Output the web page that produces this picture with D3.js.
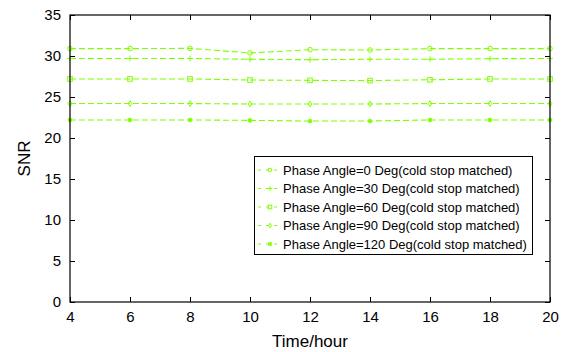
<!DOCTYPE html>
<html><head><meta charset="utf-8">
<script src="https://cdn.jsdelivr.net/npm/d3@7"></script>
<style>body{margin:0;background:#fff}svg{display:block}text{font-family:Arial,"Liberation Sans",sans-serif}</style>
</head><body><svg id="c" width="565" height="352"></svg>
<script>
const hours = [4, 6, 8, 10, 12, 14, 16, 18, 20];
const snr0 = [30.9, 30.9, 30.93, 30.37, 30.77, 30.73, 30.9, 30.9, 30.9];
const snr30 = [29.7, 29.7, 29.7, 29.6, 29.55, 29.6, 29.6, 29.67, 29.7];
const snr60 = [27.2, 27.2, 27.2, 27.07, 27.03, 27.0, 27.1, 27.2, 27.2];
const snr90 = [24.2, 24.2, 24.2, 24.15, 24.15, 24.15, 24.2, 24.2, 24.2];
const snr120 = [22.2, 22.2, 22.2, 22.15, 22.07, 22.07, 22.2, 22.2, 22.2];
const seriesNames = ["Phase Angle=0 Deg(cold stop matched)", "Phase Angle=30 Deg(cold stop matched)",
  "Phase Angle=60 Deg(cold stop matched)", "Phase Angle=90 Deg(cold stop matched)",
  "Phase Angle=120 Deg(cold stop matched)"];
const markers = ["circle", "plus", "square", "diamond", "star"];
const xTicks = [4, 6, 8, 10, 12, 14, 16, 18, 20];
const yTicks = [0, 5, 10, 15, 20, 25, 30, 35];

const series = [snr0, snr30, snr60, snr90, snr120];
const color = "#80ff00";
const svg = d3.select("#c");
const L = 70, R = 550, T = 15, B = 302;
const x = d3.scaleLinear().domain([4, 20]).range([L, R]);
const y = d3.scaleLinear().domain([0, 35]).range([B, T]);

function drawMarker(g, type, cx, cy, s) {
  s = s || 2.3;
  if (type === "circle") g.append("circle").attr("cx", cx).attr("cy", cy).attr("r", s).attr("fill", "none").attr("stroke", color);
  else if (type === "square") g.append("rect").attr("x", cx - s).attr("y", cy - s).attr("width", 2 * s).attr("height", 2 * s).attr("fill", "none").attr("stroke", color);
  else if (type === "diamond") g.append("path").attr("d", `M${cx},${cy - s - 0.5}L${cx + s - 0.4},${cy}L${cx},${cy + s + 0.5}L${cx - s + 0.4},${cy}Z`).attr("fill", "none").attr("stroke", color);
  else if (type === "plus") g.append("path").attr("d", `M${cx - s - 0.5},${cy}H${cx + s + 0.5}M${cx},${cy - s - 0.5}V${cy + s + 0.5}`).attr("stroke", color);
  else if (type === "star") g.append("path").attr("d", `M${cx - s},${cy}H${cx + s}M${cx},${cy - s}V${cy + s}M${cx - 1.6},${cy - 1.6}L${cx + 1.6},${cy + 1.6}M${cx - 1.6},${cy + 1.6}L${cx + 1.6},${cy - 1.6}`).attr("stroke", color).attr("stroke-width", 1.3);
}

// lines
const line = d3.line().x((d, i) => x(hours[i])).y(d => y(d));
series.forEach((s, k) => {
  svg.append("path").attr("d", line(s)).attr("fill", "none").attr("stroke", color)
    .attr("stroke-width", 1.1).attr("stroke-dasharray", "6,3");
  const g = svg.append("g");
  s.forEach((v, i) => drawMarker(g, markers[k], x(hours[i]), y(v)));
});

// axes
const ax = svg.append("g").attr("transform", `translate(0,${B})`)
  .call(d3.axisBottom(x).tickValues(xTicks).tickSize(-5).tickPadding(9).tickFormat(d3.format("d")));
const ay = svg.append("g").attr("transform", `translate(${L},0)`)
  .call(d3.axisLeft(y).tickValues(yTicks).tickSize(-5).tickPadding(9).tickFormat(d3.format("d")));
const axT = svg.append("g").attr("transform", `translate(0,${T})`)
  .call(d3.axisTop(x).tickValues(xTicks).tickSize(-5).tickFormat(""));
const ayR = svg.append("g").attr("transform", `translate(${R},0)`)
  .call(d3.axisRight(y).tickValues(yTicks).tickSize(-5).tickFormat(""));
[ax, ay, axT, ayR].forEach(a => {
  a.select(".domain").remove();
  a.selectAll("line").attr("stroke", "#000");
  a.selectAll("text").attr("font-size", 15).attr("fill", "#000").attr("font-family", "Arial, 'Liberation Sans', sans-serif");
});
svg.append("rect").attr("x", L).attr("y", T).attr("width", R - L).attr("height", B - T)
  .attr("fill", "none").attr("stroke", "#000").attr("stroke-width", 1.2);

svg.append("text").attr("x", (L + R) / 2).attr("y", 347).attr("text-anchor", "middle")
  .attr("font-size", 17).text("Time/hour");
svg.append("text").attr("transform", `translate(30,${(T + B) / 2}) rotate(-90)`).attr("text-anchor", "middle")
  .attr("font-size", 17).text("SNR");

// legend
const lg = svg.append("g");
lg.append("rect").attr("x", 254.5).attr("y", 156.5).attr("width", 278).attr("height", 98)
  .attr("fill", "#fff").attr("stroke", "#000").attr("stroke-width", 1);
seriesNames.forEach((n, k) => {
  const yy = 170 + k * 18.5;
  lg.append("line").attr("x1", 258).attr("x2", 282).attr("y1", yy).attr("y2", yy)
    .attr("stroke", color).attr("stroke-dasharray", "3,5").attr("stroke-dashoffset", 0);
  drawMarker(lg, markers[k], 270, yy, 1.8);
  lg.append("text").attr("x", 283).attr("y", yy + 4.5).attr("font-size", 13).attr("textLength", null).text(n);
});
</script></body></html>
